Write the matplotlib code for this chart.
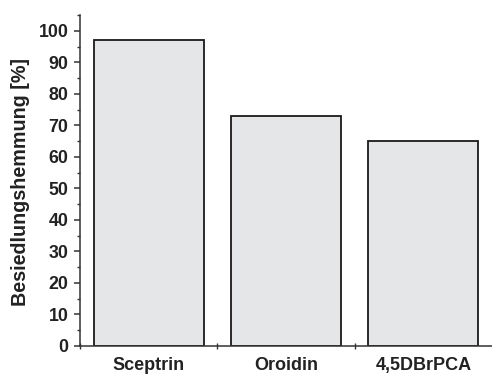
import matplotlib
matplotlib.use("Agg")
import matplotlib.pyplot as plt
from matplotlib.ticker import MultipleLocator, FixedLocator

categories = ["Sceptrin", "Oroidin", "4,5DBrPCA"]
values = [97, 73, 65]
y_ticks = [0, 10, 20, 30, 40, 50, 60, 70, 80, 90, 100]

plt.rcParams['font.family'] = ['Liberation Sans', 'DejaVu Sans']
plt.rcParams['font.weight'] = 'bold'

fig = plt.figure(figsize=(4.92, 3.75), dpi=100)
ax = fig.add_axes([80/492, 1 - 346/375, 1 - 80/492, (346 - 15)/375])

x = list(range(len(categories)))
ax.bar(x, values, width=0.8, color='#e5e6e8', edgecolor='#1a1a1a', linewidth=1.3, zorder=2)

ax.set_xlim(-0.5, 2.5)
ax.set_ylim(0, 105)
ax.spines['top'].set_visible(False)
ax.spines['right'].set_visible(False)
for s in ('left', 'bottom'):
    ax.spines[s].set_linewidth(1.1)
    ax.spines[s].set_color('#333333')

ax.yaxis.set_major_locator(FixedLocator(y_ticks))
ax.yaxis.set_minor_locator(MultipleLocator(5))
ax.set_yticklabels([str(v) for v in y_ticks], fontsize=12.8, fontweight='bold')
ax.tick_params(axis='y', which='major', length=4.3, width=1.1, direction='out', pad=4, colors='#333333', labelcolor='#222222')
ax.tick_params(axis='y', which='minor', length=2.5, width=1.0, direction='out', colors='#333333')

ax.xaxis.set_major_locator(FixedLocator([-0.5, 0.5, 1.5]))
ax.set_xticklabels([])
ax.tick_params(axis='x', which='major', length=5, width=1.0, direction='inout', colors='#333333')
for xi, cat in zip(x, categories):
    ax.text(xi, -3.6, cat, ha='center', va='top', fontsize=13, fontweight='bold', color='#222222')

ax.set_ylabel("Besiedlungshemmung [%]", fontsize=14.2, fontweight='bold', color='#222222')
ax.yaxis.set_label_coords(-(80 - 30) / (492 - 80), (346 - 182) / 331)

fig.savefig("out.png", dpi=100)
